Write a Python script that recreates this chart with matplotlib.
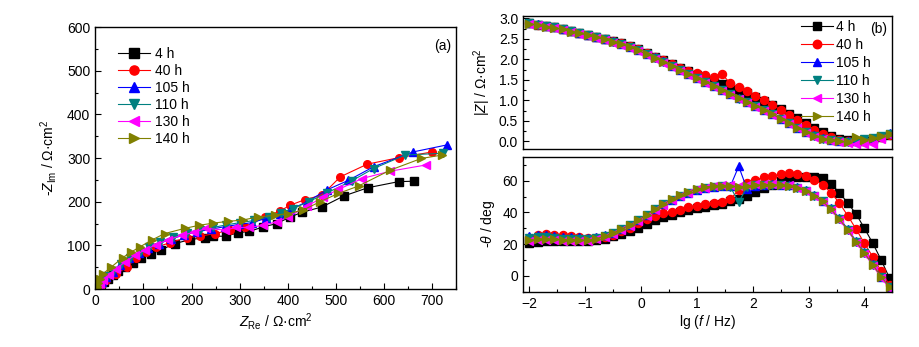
import matplotlib
matplotlib.use("Agg")
import matplotlib.pyplot as plt
from matplotlib.ticker import MultipleLocator, FormatStrFormatter

plt.rcParams['font.family'] = ['Liberation Sans', 'DejaVu Sans']
plt.rcParams['mathtext.fontset'] = 'custom'
plt.rcParams['mathtext.rm'] = 'Liberation Sans'
plt.rcParams['mathtext.it'] = 'Liberation Sans:italic'
plt.rcParams['font.size'] = 10

labels = ['4 h', '40 h', '105 h', '110 h', '130 h', '140 h']
colors = ['#000000', '#FF0000', '#0000FF', '#008080', '#FF00FF', '#808000']
markers = ['s', 'o', '^', 'v', '<', '>']

# ---------- Nyquist data (Z' , -Z'') ----------
zre_4 = [662, 630, 566, 516, 471, 430, 405, 377, 348, 320, 297, 271, 245, 228, 196, 165, 137, 115, 96, 78, 62, 48, 36, 26, 18, 12, 8, 5.5, 4]
zim_4 = [247, 246, 232, 213, 188, 176, 165, 150, 142, 132, 129, 121, 121, 118, 113, 104, 90, 80, 70, 60, 50, 41, 32, 24, 17, 11, 7, 3, 1]
zre_40 = [700, 631, 565, 509, 471, 436, 405, 384, 353, 311, 280, 248, 217, 190, 155, 127, 106, 85, 65, 44, 23, 14, 9, 6, 4, 3]
zim_40 = [314, 301, 286, 257, 215, 205, 192, 179, 165, 142, 135, 127, 121, 118, 106, 96, 85, 70, 50, 35, 20, 12, 7, 4, 2, 0.8]
zre_105 = [730, 660, 578, 526, 481, 440, 405, 384, 355, 325, 298, 270, 240, 212, 185, 158, 132, 110, 90, 70, 52, 36, 23, 14, 8, 5, 3.5]
zim_105 = [330, 314, 280, 249, 227, 200, 182, 173, 162, 152, 148, 143, 137, 131, 124, 115, 104, 95, 83, 70, 55, 40, 27, 16, 9, 4, 1.5]
zre_110 = [723, 644, 578, 533, 481, 443, 410, 385, 360, 330, 300, 272, 245, 218, 190, 162, 135, 112, 92, 72, 53, 37, 24, 15, 9, 5.5, 4]
zim_110 = [311, 307, 276, 248, 220, 200, 184, 175, 165, 157, 152, 147, 141, 136, 129, 120, 108, 97, 85, 72, 57, 42, 29, 18, 10, 5, 2]
zre_130 = [686, 613, 554, 505, 474, 440, 401, 377, 349, 320, 293, 269, 231, 205, 180, 152, 127, 104, 82, 62, 44, 28, 17, 10, 6, 4, 3]
zim_130 = [284, 270, 253, 228, 211, 190, 165, 154, 146, 141, 141, 135, 139, 130, 123, 113, 102, 90, 77, 62, 47, 32, 21, 12, 6, 3, 1]
zre_140 = [721, 677, 612, 547, 505, 467, 432, 401, 373, 338, 306, 276, 245, 216, 186, 144, 117, 92, 75, 57, 33, 16, 9, 6, 4.5, 3.5, 3]
zim_140 = [307, 299, 272, 236, 219, 200, 181, 173, 169, 165, 158, 155, 151, 146, 139, 127, 112, 96, 85, 72, 50, 35, 22, 13, 7, 3.5, 1.5]

zre_all = [zre_4, zre_40, zre_105, zre_110, zre_130, zre_140]
zim_all = [zim_4, zim_40, zim_105, zim_110, zim_130, zim_140]

# ---------- Bode data ----------
lg_f = [-2.00, -1.85, -1.70, -1.55, -1.40, -1.25, -1.10, -0.95, -0.80, -0.65,
        -0.50, -0.35, -0.20, -0.05, 0.10, 0.25, 0.40, 0.55, 0.70, 0.85,
        1.00, 1.15, 1.30, 1.45, 1.60, 1.75, 1.90, 2.05, 2.20, 2.35,
        2.50, 2.65, 2.80, 2.95, 3.10, 3.25, 3.40, 3.55, 3.70, 3.85,
        4.00, 4.15, 4.30, 4.45]

lgz_4 = [2.88, 2.85, 2.81, 2.78, 2.74, 2.69, 2.65, 2.60, 2.55, 2.50,
         2.45, 2.39, 2.32, 2.25, 2.16, 2.07, 1.98, 1.89, 1.80, 1.71,
         1.63, 1.55, 1.47, 1.40, 1.33, 1.26, 1.18, 1.09, 0.99, 0.89,
         0.79, 0.68, 0.57, 0.45, 0.33, 0.22, 0.13, 0.07, 0.03, 0.01,
         0.02, 0.05, 0.10, 0.16]
lgz_40 = [2.88, 2.85, 2.81, 2.78, 2.74, 2.69, 2.65, 2.60, 2.55, 2.50,
          2.45, 2.39, 2.32, 2.25, 2.16, 2.07, 1.98, 1.89, 1.80, 1.72,
          1.66, 1.61, 1.57, 1.64, 1.42, 1.32, 1.22, 1.11, 1.00, 0.89,
          0.77, 0.65, 0.53, 0.41, 0.29, 0.18, 0.10, 0.04, 0.01, 0.00,
          0.02, 0.06, 0.11, 0.17]
lgz_105 = [2.89, 2.86, 2.82, 2.79, 2.75, 2.70, 2.65, 2.60, 2.55, 2.50,
           2.44, 2.38, 2.31, 2.23, 2.14, 2.05, 1.95, 1.85, 1.75, 1.65,
           1.55, 1.45, 1.35, 1.25, 1.15, 1.07, 0.97, 0.87, 0.77, 0.66,
           0.56, 0.45, 0.34, 0.24, 0.15, 0.08, 0.04, 0.01, 0.00, 0.03,
           0.06, 0.09, 0.14, 0.21]
lgz_110 = [2.88, 2.85, 2.81, 2.78, 2.74, 2.69, 2.64, 2.59, 2.54, 2.49,
           2.43, 2.37, 2.30, 2.22, 2.13, 2.04, 1.94, 1.84, 1.75, 1.65,
           1.55, 1.45, 1.35, 1.25, 1.15, 1.04, 0.97, 0.87, 0.77, 0.66,
           0.56, 0.45, 0.34, 0.23, 0.14, 0.07, 0.03, 0.00, -0.02, 0.02,
           0.05, 0.08, 0.13, 0.19]
lgz_130 = [2.86, 2.83, 2.79, 2.76, 2.72, 2.67, 2.62, 2.57, 2.52, 2.47,
           2.41, 2.35, 2.28, 2.20, 2.11, 2.02, 1.92, 1.82, 1.73, 1.63,
           1.53, 1.43, 1.33, 1.23, 1.13, 1.04, 0.95, 0.85, 0.75, 0.64,
           0.54, 0.43, 0.32, 0.21, 0.12, 0.05, 0.01, -0.02, -0.04, -0.06,
           -0.07, -0.05, 0.05, 0.15]
lgz_140 = [2.87, 2.84, 2.80, 2.77, 2.73, 2.68, 2.64, 2.59, 2.54, 2.49,
           2.43, 2.37, 2.30, 2.22, 2.13, 2.04, 1.94, 1.84, 1.75, 1.65,
           1.55, 1.45, 1.35, 1.25, 1.15, 1.06, 0.97, 0.87, 0.77, 0.66,
           0.56, 0.45, 0.34, 0.23, 0.14, 0.07, 0.03, 0.00, -0.02, 0.10,
           0.04, 0.08, 0.13, 0.19]

ph_4 = [20.5, 21.5, 22, 22, 22, 22, 22, 22, 22.5, 23.5,
        25, 26.5, 28, 30.5, 33, 35, 37, 38.5, 40, 41.5,
        42.5, 43.5, 44.5, 45.5, 47, 48.5, 50.5, 53, 55.5, 57.5,
        59.5, 61, 62, 62.5, 62.5, 61.5, 58, 52.5, 46, 39,
        30, 20.5, 10, -1.5]
ph_40 = [24, 25.5, 26.5, 26, 25.5, 25, 24.5, 24, 24, 24.5,
         26, 28, 30, 33.5, 36, 38, 39.5, 40.5, 41.5, 43.5,
         44.2, 45.3, 46, 46.5, 48.5, 54, 58.5, 60.5, 62, 63,
         64, 64.8, 64.5, 63, 60.5, 57.5, 52.5, 46, 38, 29.5,
         20.5, 12, 3, -6]
ph_105 = [25, 25.5, 25.5, 25, 24.5, 24.5, 24.5, 24, 24.5, 25.5,
          27, 29.5, 32, 35, 38.5, 42, 45, 48, 50.5, 52.5,
          54, 55.5, 56, 56.5, 56.5, 69, 54.5, 56.5, 57.5, 58,
          57.5, 57, 56, 54, 51, 47.5, 42.5, 36.5, 29.5, 22,
          15, 7.5, -0.5, -7.5]
ph_110 = [24, 24.5, 24.5, 24, 23.5, 23.5, 23.5, 23.5, 24, 25,
          27, 29.5, 32, 35, 38.5, 42, 45, 48, 50.5, 52.5,
          54, 55.5, 56, 56.5, 56, 46.5, 56, 57, 57.5, 57.5,
          57, 56.5, 55.5, 53.5, 50.5, 47, 42, 36, 29, 21.5,
          14.5, 7, -0.5, -7]
ph_130 = [22, 22.5, 22.5, 22.5, 22, 22, 22, 22, 23, 24.5,
          26.5, 29, 31.5, 34.5, 38, 41.5, 44.5, 48, 50.5, 52.5,
          54.5, 55.5, 56.5, 57, 57, 56.5, 57.5, 58, 58, 58,
          57.5, 57, 55.5, 53.5, 50.5, 46.5, 41.5, 35.5, 28.5, 21,
          14, 6.5, -1, -8]
ph_140 = [22.5, 23, 23, 23, 22.5, 22.5, 22.5, 22.5, 23.5, 25,
          27, 29.5, 32, 35, 38.5, 42, 45, 48.5, 51, 53,
          54.5, 56, 56.5, 56.5, 56.5, 56, 56.5, 57, 57.5, 57.5,
          57, 56.5, 55.5, 53.5, 50.5, 47, 42, 36, 29, 21.5,
          14.5, 7, -0.5, -7]

lgz_all = [lgz_4, lgz_40, lgz_105, lgz_110, lgz_130, lgz_140]
ph_all = [ph_4, ph_40, ph_105, ph_110, ph_130, ph_140]

fig = plt.figure(figsize=(9.2, 3.47), dpi=100)
axA = fig.add_axes([0.1035, 0.167, 0.3925, 0.755])
axB = fig.add_axes([0.5685, 0.571, 0.4015, 0.383])
axC = fig.add_axes([0.5685, 0.159, 0.4015, 0.389])

ms_n = 5.5
ms_b = 5.8
for i in range(6):
    axA.plot(zre_all[i], zim_all[i], color=colors[i], marker=markers[i],
             ms=ms_n, lw=0.8, label=labels[i], mec=colors[i])
    axB.plot(lg_f, lgz_all[i], color=colors[i], marker=markers[i],
             ms=ms_b, lw=0.8, label=labels[i], mec=colors[i])
    axC.plot(lg_f, ph_all[i], color=colors[i], marker=markers[i],
             ms=ms_b, lw=0.8, label=labels[i], mec=colors[i])

# Panel (a)
axA.set_xlim(0, 750)
axA.set_ylim(0, 600)
axA.xaxis.set_major_locator(MultipleLocator(100))
axA.xaxis.set_minor_locator(MultipleLocator(50))
axA.yaxis.set_major_locator(MultipleLocator(100))
axA.yaxis.set_minor_locator(MultipleLocator(50))
axA.set_xlabel(r'$Z_{\rm Re}$ / Ω·cm$^{2}$', labelpad=2)
axA.set_ylabel(r'-$Z_{\rm Im}$ / Ω·cm$^{2}$', labelpad=6)
axA.text(0.985, 0.955, '(a)', transform=axA.transAxes, ha='right', va='top')
axA.legend(loc='upper left', bbox_to_anchor=(0.062, 0.924), frameon=False,
           handlelength=2.3, handletextpad=0.4, labelspacing=0.22,
           borderaxespad=0.0, borderpad=0.0, markerscale=1.2)

# Panel (b) top
axB.set_xlim(-2.11, 4.5)
axB.set_ylim(-0.18, 3.06)
axB.yaxis.set_major_locator(MultipleLocator(0.5))
axB.yaxis.set_minor_locator(MultipleLocator(0.25))
axB.set_ylabel(r'|$Z$| / Ω·cm$^{2}$', labelpad=4)
axB.yaxis.set_major_formatter(FormatStrFormatter('%.1f'))
axB.legend(loc='upper left', bbox_to_anchor=(0.752, 0.968), frameon=False,
           handlelength=2.3, handletextpad=0.25, labelspacing=0.28,
           borderaxespad=0.0, borderpad=0.0, markerscale=1.05)
axB.text(0.962, 0.905, '(b)', transform=axB.transAxes, ha='center', va='center')

# Panel (b) bottom
axC.set_xlim(-2.11, 4.5)
axC.set_ylim(-10, 75)
axC.xaxis.set_major_locator(MultipleLocator(1))
axC.xaxis.set_minor_locator(MultipleLocator(0.5))
axC.yaxis.set_major_locator(MultipleLocator(20))
axC.yaxis.set_minor_locator(MultipleLocator(10))
axC.set_ylabel(r'-$\theta$ / deg', labelpad=4)
axC.set_xlabel(r'lg ($f$ / Hz)', labelpad=2)

for ax in (axA, axB, axC):
    ax.tick_params(which='both', direction='in', top=False, right=False)
    ax.tick_params(which='major', length=4.5, width=0.8)
    ax.tick_params(which='minor', length=2.5, width=0.8)
    for s in ax.spines.values():
        s.set_linewidth(1.0)
axB.tick_params(axis='x', which='both', bottom=False, labelbottom=False)

fig.savefig('out.png', dpi=100)
